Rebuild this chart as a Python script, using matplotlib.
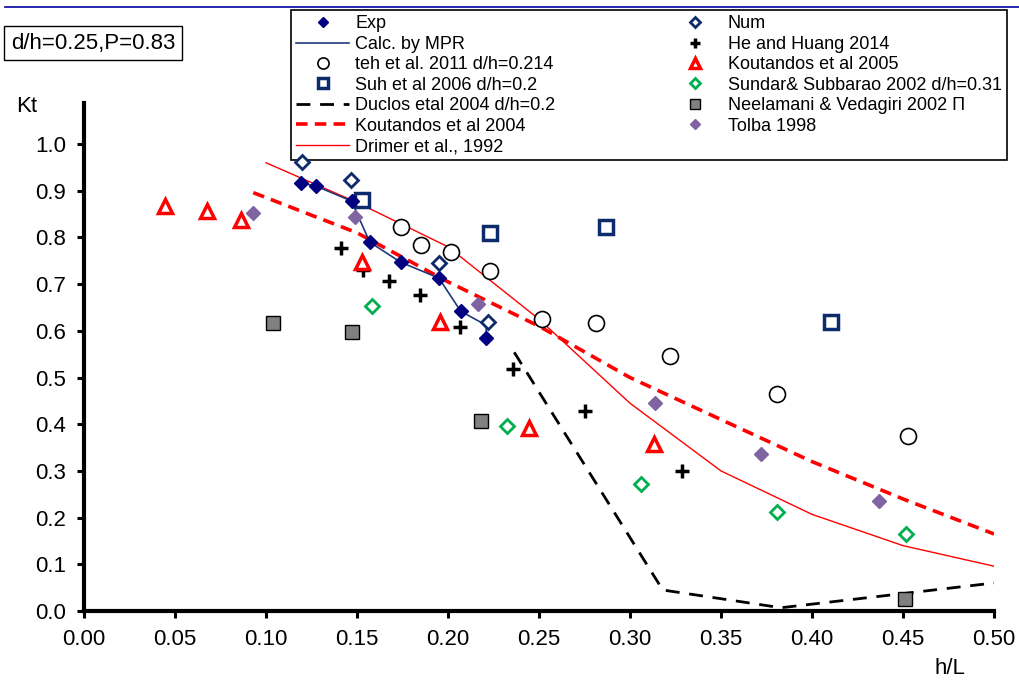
import numpy as np
import matplotlib
matplotlib.use('Agg')
import matplotlib.pyplot as plt
from matplotlib.lines import Line2D

plt.rcParams['font.family'] = ['Liberation Sans', 'DejaVu Sans']

# Data (x = h/L, y = Kt)
exp_x = [0.119, 0.1275, 0.147, 0.157, 0.174, 0.195, 0.207, 0.221]
exp_y = [0.917, 0.910, 0.878, 0.790, 0.747, 0.713, 0.642, 0.585]

calc_x = [0.119, 0.1275, 0.147, 0.157, 0.174, 0.195, 0.207, 0.221, 0.221]
calc_y = [0.917, 0.910, 0.878, 0.790, 0.747, 0.713, 0.642, 0.612, 0.585]

num_x = [0.1196, 0.1467, 0.195, 0.222]
num_y = [0.962, 0.924, 0.746, 0.618]

teh_x = [0.174, 0.185, 0.2015, 0.2233, 0.2516, 0.2814, 0.3222, 0.381, 0.453]
teh_y = [0.823, 0.784, 0.768, 0.729, 0.625, 0.616, 0.547, 0.465, 0.375]

suh_x = [0.153, 0.223, 0.287, 0.4107]
suh_y = [0.880, 0.809, 0.822, 0.619]

he_x = [0.141, 0.1535, 0.1678, 0.1846, 0.2066, 0.2355, 0.275, 0.3285]
he_y = [0.777, 0.730, 0.707, 0.677, 0.609, 0.5175, 0.428, 0.300]

kout05_x = [0.0445, 0.0674, 0.0861, 0.153, 0.1956, 0.2444, 0.3133]
kout05_y = [0.867, 0.857, 0.837, 0.748, 0.619, 0.393, 0.357]

sundar_x = [0.1584, 0.2322, 0.3062, 0.381, 0.4519]
sundar_y = [0.653, 0.396, 0.2727, 0.211, 0.165]

neel_x = [0.104, 0.147, 0.2184, 0.451]
neel_y = [0.616, 0.598, 0.4075, 0.026]

tolba_x = [0.093, 0.1489, 0.2163, 0.3136, 0.3722, 0.4369]
tolba_y = [0.853, 0.844, 0.657, 0.4447, 0.336, 0.236]

duclos_x = [0.2364, 0.318, 0.383, 0.50]
duclos_y = [0.554, 0.045, 0.007, 0.060]

kout04_x = [0.093, 0.15, 0.20, 0.25, 0.30, 0.35, 0.40, 0.45, 0.50]
kout04_y = [0.896, 0.81, 0.705, 0.61, 0.50, 0.41, 0.32, 0.24, 0.165]

drimer_x = [0.10, 0.15, 0.20, 0.25, 0.30, 0.35, 0.40, 0.45, 0.50]
drimer_y = [0.96, 0.875, 0.78, 0.625, 0.445, 0.30, 0.207, 0.14, 0.096]

W, H = 1019, 682
fig = plt.figure(figsize=(W/100, H/100), dpi=100)
ax = fig.add_axes([84/W, 1 - 611/H, (994 - 84)/W, (611 - 103)/H])

navy = '#000080'
dblue = '#0d2b6b'

# lines
l_calc, = ax.plot(calc_x, calc_y, '-', color='#1f3a7a', lw=1.2, zorder=3)
l_duc, = ax.plot(duclos_x, duclos_y, '--', color='black', lw=2.0, dashes=(5, 3.5), zorder=2)
l_k04, = ax.plot(kout04_x, kout04_y, '--', color='red', lw=2.6, dashes=(3.2, 2), zorder=2)
l_dri, = ax.plot(drimer_x, drimer_y, '-', color='red', lw=1.0, zorder=2)

# markers
m_exp, = ax.plot(exp_x, exp_y, 'D', ms=7.5, color=navy, mec=navy, ls='none', zorder=5)
m_num, = ax.plot(num_x, num_y, 'D', ms=7.5, mfc='white', mec=dblue, mew=2, ls='none', zorder=4)
m_teh, = ax.plot(teh_x, teh_y, 'o', ms=11.5, mfc='white', mec='black', mew=1.2, ls='none', zorder=4)
m_suh, = ax.plot(suh_x, suh_y, 's', ms=10.5, mfc='white', mec=dblue, mew=2.5, ls='none', zorder=4)
m_he, = ax.plot(he_x, he_y, '+', ms=10, color='black', mew=2.5, ls='none', zorder=4)
m_k05, = ax.plot(kout05_x, kout05_y, '^', ms=9.5, mfc='white', mec='red', mew=2.5, ls='none', zorder=4)
m_sun, = ax.plot(sundar_x, sundar_y, 'D', ms=7.5, mfc='white', mec='#00b050', mew=2, ls='none', zorder=4)
m_nee, = ax.plot(neel_x, neel_y, 's', ms=10, mfc='#808080', mec='black', mew=1, ls='none', zorder=4)
m_tol, = ax.plot(tolba_x, tolba_y, 'D', ms=7.5, color='#8064a2', ls='none', zorder=4)

ax.set_xlim(0, 0.5)
ax.set_ylim(0, 1.088)
ax.set_xticks(np.arange(0, 0.501, 0.05))
ax.set_yticks(np.arange(0, 1.001, 0.1))
ax.set_xticklabels(['%.2f' % v for v in np.arange(0, 0.501, 0.05)])
ax.set_yticklabels(['%.1f' % v for v in np.arange(0, 1.001, 0.1)])
ax.tick_params(direction='out', length=5, width=2.2, labelsize=16, pad=8)
for s in ['top', 'right']:
    ax.spines[s].set_visible(False)
for s in ['left', 'bottom']:
    ax.spines[s].set_linewidth(3)

handles = [m_exp, l_calc, m_teh, m_suh, l_duc, l_k04, l_dri,
           m_num, m_he, m_k05, m_sun, m_nee, m_tol]
labels = ['Exp', 'Calc. by MPR', 'teh et al. 2011 d/h=0.214', 'Suh et al 2006 d/h=0.2',
          'Duclos etal 2004 d/h=0.2', 'Koutandos et al 2004', 'Drimer et al., 1992',
          'Num', 'He and Huang 2014', 'Koutandos et al 2005',
          'Sundar& Subbarao 2002 d/h=0.31', 'Neelamani & Vedagiri 2002 Π', 'Tolba 1998']
leg = ax.legend(handles, labels, ncol=2, loc='upper left',
                bbox_to_anchor=(291/W, 1 - 10/H), bbox_transform=fig.transFigure,
                fontsize=13, frameon=True, fancybox=False, framealpha=1,
                edgecolor='black', borderpad=0.3, labelspacing=0.19,
                handlelength=2.9, handletextpad=0.35, columnspacing=6.3,
                markerscale=0.7, numpoints=1, borderaxespad=0)
leg.get_frame().set_linewidth(1.2)
# markers sit on top of the legend box in the original
leg.set_zorder(3.5)

# annotations
fig.text(11/W, 1 - 43/H, 'd/h=0.25,P=0.83', fontsize=16, ha='left', va='center',
         bbox=dict(boxstyle='square,pad=0.3', fc='white', ec='black', lw=1))
fig.text(16/W, 1 - 107/H, 'Kt', fontsize=16, ha='left', va='center')
fig.text(950/W, 1 - 669/H, 'h/L', fontsize=16, ha='center', va='center')
fig.add_artist(Line2D([5/W, 1], [1 - 7/H, 1 - 7/H], color='#0000a0', lw=1.2))

plt.savefig('out.png', dpi=100)
